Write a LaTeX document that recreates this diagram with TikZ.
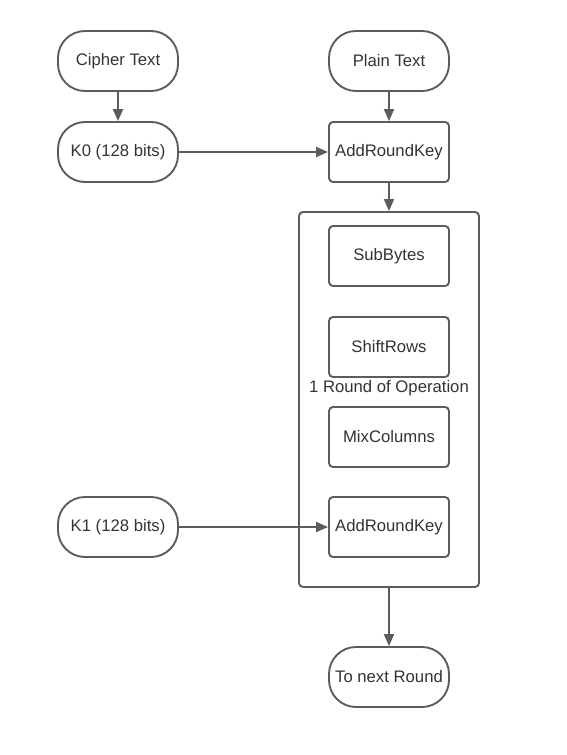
\documentclass[tikz,border=0pt]{standalone}
\usepackage{fontspec}
\setmainfont{Liberation Sans}
\usetikzlibrary{arrows.meta}
\definecolor{edge}{HTML}{5C5C5C}
\definecolor{ink}{HTML}{333333}
\begin{document}
\begin{tikzpicture}[x=1pt,y=-1pt,
  txt/.style={text=ink, font=\fontsize{16.7}{19}\selectfont},
  base/.style={txt, draw=edge, line width=1.9pt, minimum width=120pt, minimum height=60pt,
    inner sep=0pt},
  term/.style={base, rounded corners=27pt},
  stepbox/.style={base, rounded corners=4pt},
  frame/.style={draw=edge, line width=1.9pt, rounded corners=4pt},
  flow/.style={draw=edge, line width=1.9pt, -{Triangle[length=12pt,width=10pt]}}]
  \useasboundingbox (0,0) rectangle (567,755);

  % input terminals
  \node[term] (cipher) at (118,61) {Cipher Text};
  \node[term] (plain) at (389,61) {Plain Text};
  \node[term] (k0) at (118,152) {K0 (128 bits)};
  \node[term] (k1) at (118,527) {K1 (128 bits)};
  \node[term] (next) at (389,677) {To next Round};

  % initial key addition
  \node[stepbox] (ark0) at (389,152) {AddRoundKey};

  % one round
  \node[frame, minimum width=180pt, minimum height=375pt, inner sep=0pt] (round) at (389,399.5) {};
  \node[stepbox] (sub) at (389,256) {SubBytes};
  \node[stepbox] (shift) at (389,347) {ShiftRows};
  \node[txt, inner sep=0pt] (lbl) at (389,388) {1 Round of Operation};
  \node[stepbox] (mix) at (389,437) {MixColumns};
  \node[stepbox] (ark1) at (389,527) {AddRoundKey};

  % connectors
  \draw[flow] (cipher) -- (k0);
  \draw[flow] (plain) -- (ark0);
  \draw[flow] (k0) -- (ark0);
  \draw[flow] (ark0) -- (round);
  \draw[flow] (k1) -- (ark1);
  \draw[flow] (round) -- (next);
\end{tikzpicture}
\end{document}
